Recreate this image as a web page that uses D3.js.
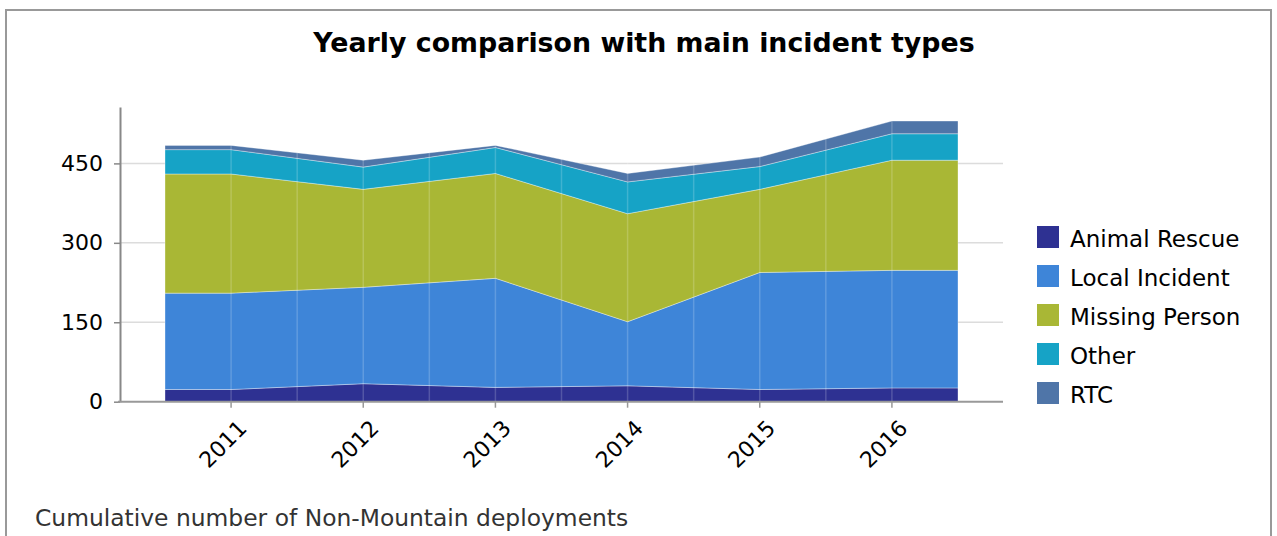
<!DOCTYPE html>
<html>
    <head>
        <meta charset="utf-8">
        <script src="https://cdn.jsdelivr.net/npm/d3@7"></script>
    </head>
    <style>
        body { margin: 0; background: #fff; }
        text { font-family: "DejaVu Sans", sans-serif; }
    </style>
    <body>
        <div id="canvas"></div>
        <script>
            // values
            var years = ['2011', '2012', '2013', '2014', '2015', '2016'];
            var series = ['Animal Rescue', 'Local Incident', 'Missing Person', 'Other', 'RTC'];
            var animalRescue  = [23, 34, 27, 30, 23, 26];
            var localIncident = [182, 182, 206, 121, 221, 222];
            var missingPerson = [225, 185, 198, 204, 157, 208];
            var other         = [46, 42, 49, 60, 43, 50];
            var rtc           = [8, 13, 4, 16, 18, 24];
            var yTicks = [0, 150, 300, 450];
            var colors = ['#2e3192', '#3e85d8', '#a9b735', '#16a3c6', '#4f75a8'];

            var columns = [animalRescue, localIncident, missingPerson, other, rtc];
            var rows = years.map((y, i) => {
                var row = { year: y };
                series.forEach((s, j) => row[s] = columns[j][i]);
                return row;
            });

            const w = 1277;
            const h = 536;
            const plotLeft = 120, plotRight = 1003;
            const plotBottom = 401.7, plotTop = 107;

            const svg = d3.select('#canvas')
                .append('svg')
                .attr('width', w)
                .attr('height', h);

            // frame
            svg.append('rect')
                .attr('x', 6).attr('y', 10)
                .attr('width', 1265).attr('height', 600)
                .attr('fill', 'none')
                .attr('stroke', '#999')
                .attr('stroke-width', 2);

            svg.append('text')
                .attr('x', 644)
                .attr('y', 52)
                .attr('text-anchor', 'middle')
                .attr('font-size', '26.8px')
                .attr('font-weight', 'bold')
                .attr('fill', '#000')
                .text('Yearly comparison with main incident types');

            var stacked = d3.stack().keys(series)(rows);
            var maxTotal = d3.max(stacked[stacked.length - 1], d => d[1]);

            var x = d3.scaleBand()
                .domain(years)
                .range([165, 958])
                .padding(0);

            var y = d3.scaleLinear()
                .domain([0, maxTotal * 1.05])
                .range([plotBottom, plotTop]);

            // horizontal grid
            svg.append('g')
                .selectAll('line')
                .data(yTicks.filter(t => t > 0))
                .enter()
                .append('line')
                .attr('x1', plotLeft).attr('x2', plotRight)
                .attr('y1', d => y(d)).attr('y2', d => y(d))
                .attr('stroke', '#dcdcdc')
                .attr('stroke-width', 1.5);

            // areas reach the band edges, holding first/last values flat
            var edgePoints = function(layer) {
                var pts = layer.map((d, i) => ({ x: x(years[i]) + x.bandwidth() / 2, d: d }));
                pts.unshift({ x: x.range()[0], d: layer[0] });
                pts.push({ x: x.range()[1], d: layer[layer.length - 1] });
                return pts;
            };

            var area = d3.area()
                .x(p => p.x)
                .y0(p => y(p.d[0]))
                .y1(p => y(p.d[1]));

            svg.append('g')
                .selectAll('path')
                .data(stacked)
                .enter()
                .append('path')
                .attr('d', d => area(edgePoints(d)))
                .attr('fill', (d, i) => colors[i])
                .attr('stroke', 'rgba(255,255,255,0.35)')
                .attr('stroke-width', 1);

            // faint vertical lines over the areas
            var vLines = [];
            years.forEach((yr, i) => {
                vLines.push(x(yr) + x.bandwidth() / 2);
                if (i > 0) vLines.push(x(yr));
            });
            svg.append('g')
                .selectAll('line')
                .data(vLines)
                .enter()
                .append('line')
                .attr('x1', d => d).attr('x2', d => d)
                .attr('y1', plotTop).attr('y2', plotBottom)
                .attr('stroke', '#fff')
                .attr('stroke-opacity', 0.18)
                .attr('stroke-width', 1.5);

            // y axis
            var yAxis = svg.append('g')
                .attr('transform', `translate(${plotLeft},0)`)
                .call(d3.axisLeft(y).tickValues(yTicks).tickSize(6).tickPadding(11).tickSizeOuter(0));
            yAxis.select('.domain').attr('stroke', '#888').attr('stroke-width', 2);
            yAxis.selectAll('.tick line').attr('stroke', '#888').attr('stroke-width', 1.5);
            yAxis.selectAll('.tick text')
                .attr('font-size', '22px')
                .attr('font-family', '"DejaVu Sans", sans-serif')
                .attr('fill', '#000');

            // x axis
            var xAxis = svg.append('g')
                .attr('transform', `translate(0,${plotBottom})`)
                .call(d3.axisBottom(x).tickSize(6).tickSizeOuter(0).tickFormat(d => d));
            xAxis.select('.domain').remove();
            xAxis.append('line')
                .attr('x1', plotLeft - 2).attr('x2', plotRight)
                .attr('stroke', '#999').attr('stroke-width', 2);
            xAxis.selectAll('.tick line').attr('stroke', '#999').attr('stroke-width', 1.5);
            xAxis.selectAll('.tick text')
                .attr('font-size', '22px')
                .attr('font-family', '"DejaVu Sans", sans-serif')
                .attr('fill', '#000')
                .attr('text-anchor', 'end')
                .attr('transform', 'translate(17,28) rotate(-45)')
                .attr('y', 0)
                .attr('dy', 0);

            // legend
            var legend = svg.append('g')
                .selectAll('g')
                .data(series)
                .enter()
                .append('g')
                .attr('transform', (d, i) => `translate(1037,${226 + i * 39})`);
            legend.append('rect')
                .attr('width', 22).attr('height', 22)
                .attr('fill', (d, i) => colors[i]);
            legend.append('text')
                .attr('x', 33).attr('y', 20.5)
                .attr('font-size', '23px')
                .attr('fill', '#000')
                .text(d => d);

            svg.append('text')
                .attr('x', 35)
                .attr('y', 526)
                .attr('font-size', '23.4px')
                .attr('fill', '#333')
                .text('Cumulative number of Non-Mountain deployments');
        </script>
    </body>
</html>
